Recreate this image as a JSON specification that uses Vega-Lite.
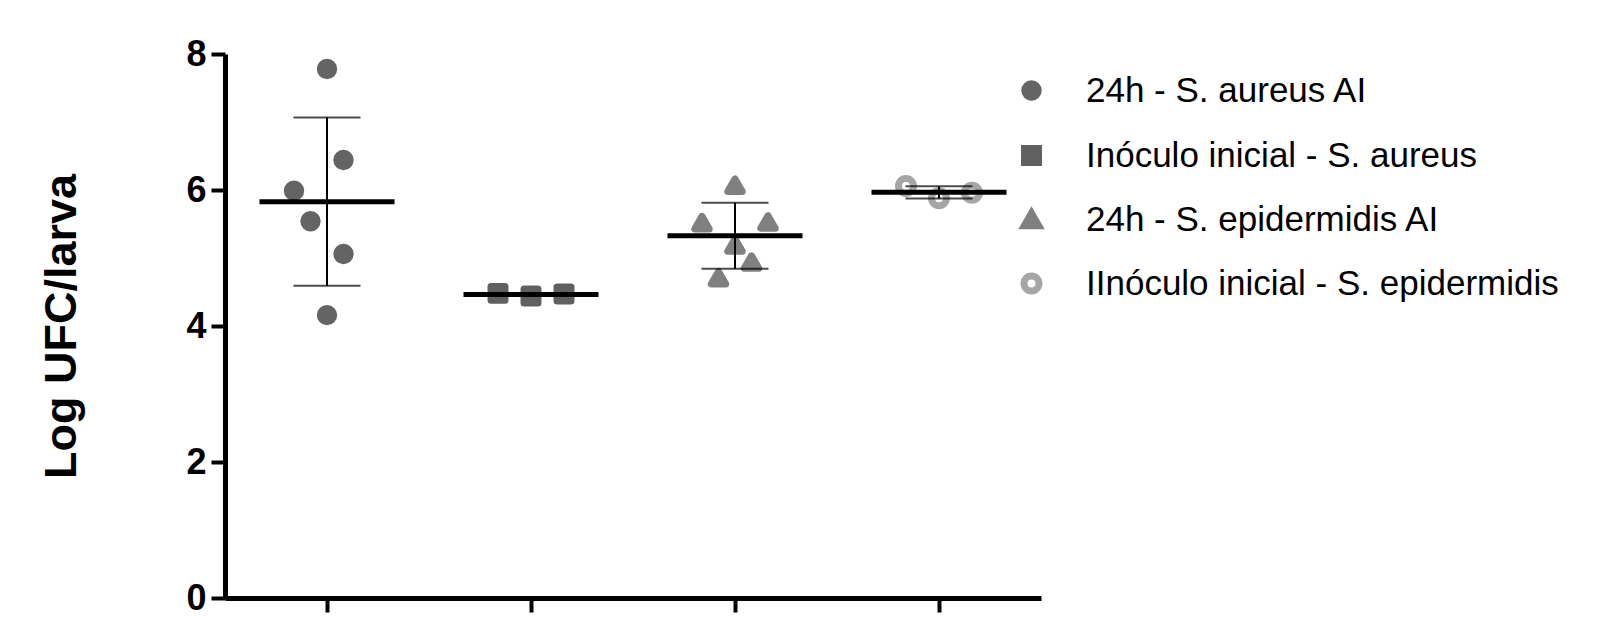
{
  "$schema": "https://vega.github.io/schema/vega-lite/v6.json",
  "width": 816,
  "height": 544,
  "autosize": {"type": "none"},
  "padding": {"left": 225, "top": 54, "right": 562, "bottom": 29},
  "background": "white",
  "config": {"view": {"stroke": null}, "font": "Liberation Sans"},
  "data": {
    "values": [
      {"grupo": "24h - S. aureus AI", "valor": 7.78, "pos": 0},
      {"grupo": "24h - S. aureus AI", "valor": 6.44, "pos": 1},
      {"grupo": "24h - S. aureus AI", "valor": 5.99, "pos": -2},
      {"grupo": "24h - S. aureus AI", "valor": 5.54, "pos": -1},
      {"grupo": "24h - S. aureus AI", "valor": 5.06, "pos": 1},
      {"grupo": "24h - S. aureus AI", "valor": 4.16, "pos": 0},
      {"grupo": "Inóculo inicial - S. aureus", "valor": 4.48, "pos": -2},
      {"grupo": "Inóculo inicial - S. aureus", "valor": 4.44, "pos": 0},
      {"grupo": "Inóculo inicial - S. aureus", "valor": 4.47, "pos": 2},
      {"grupo": "24h - S. epidermidis AI", "valor": 6.07, "pos": 0},
      {"grupo": "24h - S. epidermidis AI", "valor": 5.52, "pos": -2},
      {"grupo": "24h - S. epidermidis AI", "valor": 5.53, "pos": 2},
      {"grupo": "24h - S. epidermidis AI", "valor": 5.19, "pos": 0},
      {"grupo": "24h - S. epidermidis AI", "valor": 4.94, "pos": 1},
      {"grupo": "24h - S. epidermidis AI", "valor": 4.71, "pos": -1},
      {"grupo": "IInóculo inicial - S. epidermidis", "valor": 6.06, "pos": -2},
      {"grupo": "IInóculo inicial - S. epidermidis", "valor": 5.88, "pos": 0},
      {"grupo": "IInóculo inicial - S. epidermidis", "valor": 5.96, "pos": 2}
    ]
  },
  "encoding": {
    "x": {
      "field": "grupo",
      "type": "nominal",
      "sort": ["24h - S. aureus AI", "Inóculo inicial - S. aureus", "24h - S. epidermidis AI", "IInóculo inicial - S. epidermidis"],
      "scale": {"type": "band", "paddingInner": 0, "paddingOuter": 0},
      "axis": {"title": null, "labels": false, "ticks": true, "tickSize": 14, "tickWidth": 4, "tickColor": "black", "domainColor": "black", "domainWidth": 5, "grid": false}
    },
    "y": {
      "field": "valor",
      "type": "quantitative",
      "scale": {"domain": [0, 8], "nice": false},
      "axis": {
        "values": [0, 2, 4, 6, 8],
        "tickSize": 14, "tickWidth": 4, "tickColor": "black",
        "domainColor": "black", "domainWidth": 5, "grid": false,
        "labelFontSize": 36, "labelFontWeight": "bold", "labelFont": "Liberation Sans", "labelColor": "black", "labelPadding": 5,
        "title": "Log UFC/larva", "titleFontSize": 45, "titleFontWeight": "bold", "titleFont": "Liberation Sans", "titleColor": "black", "titlePadding": 101
      }
    }
  },
  "layer": [
    {
      "mark": {"type": "point", "filled": true, "strokeWidth": 7, "strokeJoin": "round", "opacity": 1},
      "encoding": {
        "xOffset": {"field": "pos", "type": "quantitative", "scale": {"domain": [-6, 6], "range": [3, 201]}},
        "shape": {"field": "grupo", "type": "nominal", "scale": {"domain": ["24h - S. aureus AI", "Inóculo inicial - S. aureus", "24h - S. epidermidis AI", "IInóculo inicial - S. epidermidis"], "range": ["circle", "square", "triangle-up", "circle"]}},
        "fill": {"field": "grupo", "type": "nominal", "scale": {"domain": ["24h - S. aureus AI", "Inóculo inicial - S. aureus", "24h - S. epidermidis AI", "IInóculo inicial - S. epidermidis"], "range": ["#646464", "#606060", "#808080", "#ffffff"]},
          "legend": {"orient": "none", "legendX": 789, "legendY": 19, "title": null, "labelFontSize": 35, "labelFont": "Liberation Sans", "labelColor": "black", "labelOffset": 37, "labelLimit": 0, "rowPadding": 22, "symbolStrokeWidth": 7}},
        "stroke": {"field": "grupo", "type": "nominal", "scale": {"domain": ["24h - S. aureus AI", "Inóculo inicial - S. aureus", "24h - S. epidermidis AI", "IInóculo inicial - S. epidermidis"], "range": ["#646464", "#606060", "#808080", "#a6a6a6"]}},
        "size": {"field": "grupo", "type": "nominal", "scale": {"domain": ["24h - S. aureus AI", "Inóculo inicial - S. aureus", "24h - S. epidermidis AI", "IInóculo inicial - S. epidermidis"], "range": [180, 225, 270, 400]}}
      }
    },
    {
      "mark": {"type": "errorbar", "extent": "stdev", "thickness": 2, "color": "black", "ticks": {"size": 67, "thickness": 2, "color": "black"}},
      "encoding": {"y": {"field": "valor", "type": "quantitative"}}
    },
    {
      "mark": {"type": "tick", "color": "black", "thickness": 5, "size": 135, "opacity": 1},
      "encoding": {"y": {"field": "valor", "type": "quantitative", "aggregate": "mean"}}
    }
  ]
}
